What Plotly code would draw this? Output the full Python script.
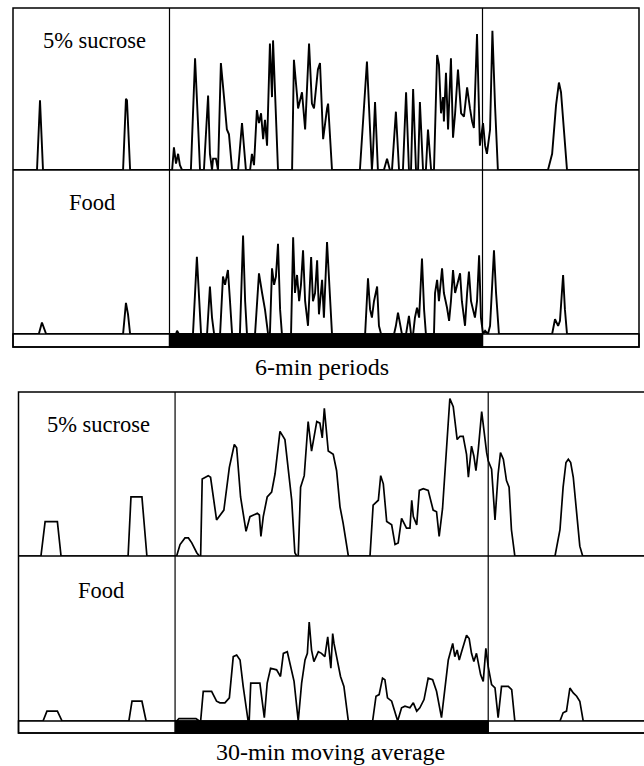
import plotly.graph_objects as go

W, H = 644, 766

# ---------------- data (time in hours of the 24-h record, value in % of row height) ----------------
DARK_START, DARK_END = 6, 18

# 6-min periods, 5% sucrose
suc6 = [(0, 0), (0.92, 0), (1.035, 43), (1.15, 0),
        (4.22, 0), (4.33, 44), (4.37, 43), (4.49, 0),
        (6.10, 0), (6.17, 14), (6.25, 4), (6.33, 10), (6.40, 3), (6.48, 0),
        (6.82, 0), (6.98, 69), (7.09, 30), (7.17, 0),
        (7.32, 0), (7.48, 46), (7.55, 10), (7.63, 0), (7.67, 7), (7.78, 7), (7.86, 0),
        (7.97, 66), (8.09, 45), (8.20, 25), (8.28, 22), (8.40, 0),
        (8.63, 0), (8.78, 29), (8.93, 0),
        (9.09, 0), (9.16, 10), (9.24, 3), (9.35, 37), (9.43, 29), (9.51, 35), (9.59, 19), (9.66, 31),
        (9.74, 15), (9.85, 78), (9.93, 45), (9.97, 80), (10.05, 42), (10.16, 0),
        (10.70, 0), (10.77, 68), (10.89, 46), (10.93, 38), (11.08, 48), (11.20, 25), (11.35, 78),
        (11.46, 41), (11.54, 38), (11.69, 62), (11.77, 66), (11.89, 19), (12.04, 38), (12.08, 41), (12.23, 0),
        (13.30, 0), (13.57, 67), (13.69, 20), (13.76, 0), (13.80, 10), (13.88, 42), (13.99, 0),
        (14.22, 0), (14.34, 7), (14.45, 0),
        (14.53, 0), (14.68, 36), (14.80, 0),
        (14.95, 0), (15.07, 48), (15.18, 0), (15.26, 0), (15.34, 50), (15.45, 0),
        (15.53, 0), (15.60, 42), (15.72, 0),
        (15.83, 0), (15.91, 25), (16.03, 0),
        (16.14, 0), (16.26, 71), (16.33, 65), (16.41, 35), (16.49, 45), (16.52, 30), (16.60, 60),
        (16.68, 25), (16.79, 69), (16.87, 20), (16.95, 35), (17.06, 62), (17.18, 35), (17.29, 33),
        (17.41, 51), (17.52, 38), (17.60, 30), (17.67, 26), (17.79, 84), (17.90, 15), (18.02, 29),
        (18.10, 15), (18.17, 10), (18.29, 25), (18.38, 86), (18.48, 40), (18.59, 0),
        (20.51, 0), (20.67, 10), (20.82, 40), (20.93, 54), (21.01, 48), (21.13, 20), (21.24, 0), (24, 0)]

# 6-min periods, food
food6 = [(0, 0), (0.99, 0), (1.11, 7), (1.19, 3), (1.27, 0),
         (4.22, 0), (4.33, 19), (4.41, 12), (4.49, 0),
         (6.25, 0), (6.29, 2), (6.36, 0),
         (6.90, 0), (7.05, 47), (7.13, 25), (7.21, 0),
         (7.44, 0), (7.55, 29), (7.63, 10), (7.71, 0),
         (7.94, 0), (8.05, 35), (8.13, 30), (8.20, 35), (8.24, 39), (8.32, 20), (8.40, 0),
         (8.70, 0), (8.82, 60), (8.90, 20), (8.97, 0),
         (9.28, 0), (9.43, 37), (9.55, 25), (9.66, 15), (9.78, 0),
         (9.85, 0), (9.93, 40), (10.01, 30), (10.08, 35), (10.16, 55), (10.24, 15), (10.31, 0),
         (10.66, 0), (10.74, 59), (10.81, 25), (10.89, 36), (10.97, 20), (11.04, 30), (11.12, 51),
         (11.20, 20), (11.31, 5), (11.43, 47), (11.50, 20), (11.58, 25), (11.66, 45), (11.73, 12),
         (11.85, 33), (11.92, 10), (12.04, 56), (12.12, 30), (12.23, 0),
         (13.50, 0), (13.61, 34), (13.69, 15), (13.76, 10), (13.84, 20), (13.96, 29), (14.03, 5), (14.11, 0),
         (14.61, 0), (14.68, 5), (14.76, 13), (14.84, 5), (14.91, 0),
         (15.07, 0), (15.18, 11), (15.26, 0),
         (15.34, 0), (15.41, 10), (15.49, 16), (15.57, 10), (15.68, 46), (15.76, 15), (15.83, 0),
         (16.14, 0), (16.18, 25), (16.26, 33), (16.33, 20), (16.45, 40), (16.52, 25), (16.64, 16),
         (16.72, 8), (16.79, 20), (16.87, 39), (16.95, 25), (17.02, 30), (17.14, 37), (17.21, 20),
         (17.33, 5), (17.41, 25), (17.48, 38), (17.56, 20), (17.64, 15), (17.71, 10), (17.79, 20),
         (17.87, 48), (17.94, 10), (18.02, 0),
         (18.10, 2), (18.21, 0), (18.29, 5), (18.36, 30), (18.44, 51), (18.52, 25), (18.63, 0),
         (20.67, 0), (20.78, 9), (20.90, 5), (20.97, 8), (21.09, 36), (21.16, 15), (21.24, 0), (24, 0)]

# 30-min moving average, 5% sucrose
suc30 = [(0, 0), (0.86, 0), (1.02, 21), (1.49, 21), (1.63, 0),
         (4.20, 0), (4.31, 36), (4.73, 36), (4.92, 0),
         (6.06, 0), (6.19, 7), (6.38, 11), (6.51, 11), (6.64, 8), (6.83, 2), (6.93, 0), (6.98, 0),
         (7.04, 47), (7.27, 49), (7.36, 48), (7.59, 22), (7.72, 25), (7.87, 28), (8.08, 54), (8.27, 68),
         (8.36, 66), (8.51, 36), (8.72, 15), (8.87, 24), (9.15, 26), (9.23, 25), (9.29, 12), (9.38, 24),
         (9.53, 36), (9.70, 39), (9.83, 50), (10.02, 76), (10.21, 71), (10.34, 53), (10.47, 34),
         (10.59, 2), (10.66, 0), (10.72, 0), (10.81, 42), (10.95, 49), (11.10, 82), (11.23, 64),
         (11.43, 82), (11.55, 81), (11.64, 72), (11.72, 90), (11.81, 73), (11.87, 64), (12.06, 62),
         (12.19, 52), (12.32, 30), (12.44, 20), (12.64, 0), (13.47, 0), (13.59, 31), (13.79, 34),
         (13.88, 49), (13.98, 44), (14.11, 21), (14.23, 20), (14.30, 19), (14.43, 7), (14.55, 8),
         (14.68, 23), (14.87, 17), (15.00, 17), (15.07, 34), (15.13, 24), (15.26, 19), (15.36, 40),
         (15.51, 41), (15.70, 40), (15.89, 28), (16.02, 27), (16.12, 12), (16.25, 29), (16.41, 71),
         (16.53, 96), (16.66, 91), (16.81, 71), (16.92, 73), (17.04, 73), (17.17, 62), (17.24, 48),
         (17.36, 67), (17.45, 61), (17.53, 52), (17.62, 65), (17.75, 88), (17.84, 75), (17.94, 63),
         (18.00, 58), (18.13, 53), (18.26, 22), (18.38, 50), (18.47, 63), (18.58, 59), (18.70, 46),
         (18.80, 42), (18.89, 16), (19.02, 0),
         (20.56, 0), (20.75, 16), (20.87, 42), (20.98, 57), (21.07, 59), (21.16, 57), (21.26, 48),
         (21.39, 24), (21.51, 6), (21.62, 0), (24, 0)]

# 30-min moving average, food
food30 = [(0, 0), (0.94, 0), (1.09, 6), (1.49, 6), (1.67, 0),
          (4.23, 0), (4.35, 12), (4.73, 12), (4.89, 0),
          (6.06, 0), (6.15, 1.5), (6.80, 1.5), (6.93, 0),
          (6.98, 0), (7.08, 18), (7.40, 18), (7.59, 12), (7.72, 11), (7.91, 11), (8.08, 14), (8.23, 39),
          (8.36, 40), (8.49, 37), (8.61, 21), (8.80, 0), (8.84, 0), (8.90, 23), (9.25, 23), (9.42, 2),
          (9.53, 23), (9.66, 32), (9.89, 31), (10.04, 27), (10.15, 41), (10.30, 42), (10.40, 35),
          (10.56, 24), (10.72, 0), (10.85, 23), (10.98, 37), (11.07, 41), (11.14, 60), (11.23, 43),
          (11.32, 36), (11.49, 42), (11.61, 41), (11.74, 39), (11.85, 51), (11.93, 37), (11.97, 32),
          (12.04, 53), (12.09, 47), (12.19, 39), (12.34, 27), (12.47, 21), (12.64, 0), (13.57, 0),
          (13.70, 15), (13.82, 16), (13.95, 26), (14.04, 25), (14.14, 14), (14.30, 12), (14.40, 7),
          (14.53, 0), (14.68, 8), (14.81, 9), (15.00, 8), (15.13, 11), (15.26, 6), (15.38, 8),
          (15.54, 13), (15.70, 26), (15.87, 25), (16.02, 18), (16.21, 2), (16.47, 37), (16.64, 47),
          (16.72, 39), (16.81, 43), (16.89, 37), (16.98, 42), (17.17, 52), (17.27, 50), (17.36, 41),
          (17.45, 36), (17.55, 41), (17.71, 28), (17.81, 24), (17.91, 44), (18.00, 33), (18.13, 22),
          (18.26, 20), (18.38, 2), (18.51, 21), (18.77, 21), (18.90, 19), (19.02, 0),
          (20.75, 0), (20.87, 5), (21.00, 6), (21.13, 20), (21.26, 17), (21.39, 15), (21.51, 12),
          (21.64, 0), (24, 0)]

row_labels = ["5% sucrose", "Food"]
panel_titles = ["6-min periods", "30-min moving average"]

# ---------------- layout geometry (pixels) ----------------
FONT = "Liberation Serif, Times New Roman, serif"
panels = [
    dict(left=13, right=639, xmax=24, top=8, mid=170, base=334, barb=347,
         series=[suc6, food6], xa="x", ya=["y", "y2"], lw=1.9,
         lab=[(94, 41), (92, 203)], title=(322, 367)),
    dict(left=18.5, right=644, xmax=23.97, top=392, mid=556, base=721, barb=733,
         series=[suc30, food30], xa="x2", ya=["y3", "y4"], lw=1.7,
         lab=[(98, 424), (101, 590)], title=(330, 752)),
]


def px(x):
    return x / W


def py(y):
    return 1 - y / H


fig = go.Figure()
shapes, annotations = [], []
LW = 1.5

for i, p in enumerate(panels):
    rows = [(p["top"], p["mid"]), (p["mid"], p["base"])]
    xname = "xaxis" if i == 0 else "xaxis2"
    fig.layout[xname] = dict(domain=[px(p["left"]), min(1.0, px(p["right"]))],
                             range=[0, p["xmax"]], visible=False, fixedrange=True)
    for r, (ser, yid) in enumerate(zip(p["series"], p["ya"])):
        t = [a for a, b in ser]
        v = [b for a, b in ser]
        fig.add_trace(go.Scatter(x=t, y=v, mode="lines", xaxis=p["xa"], yaxis=yid,
                                 line=dict(color="black", width=p["lw"]), showlegend=False,
                                 hoverinfo="skip"))
        ytop, ybase = rows[r]
        yname = "yaxis" + ("" if yid == "y" else yid[1:])
        fig.layout[yname] = dict(domain=[py(ybase), py(ytop)], range=[0, 100],
                                 visible=False, anchor=p["xa"], fixedrange=True)
        lx, ly = p["lab"][r]
        annotations.append(dict(x=px(lx), y=py(ly), xref="paper", yref="paper",
                                text=row_labels[r], showarrow=False,
                                font=dict(family=FONT, size=22.5, color="black"),
                                xanchor="center", yanchor="middle"))

    xr = p["xa"]
    L, R = px(p["left"]), px(p["right"]) if p["right"] < W else 1.02
    # light/dark bar (white with outline, black during dark phase)
    shapes.append(dict(type="rect", xref="paper", yref="paper", x0=L, x1=R,
                       y0=py(p["barb"]), y1=py(p["base"]),
                       fillcolor="white", line=dict(color="black", width=LW)))
    shapes.append(dict(type="rect", xref=xr, yref="paper", x0=DARK_START, x1=DARK_END,
                       y0=py(p["barb"]), y1=py(p["base"]),
                       fillcolor="black", line=dict(color="black", width=LW)))
    # outer frame
    shapes.append(dict(type="rect", xref="paper", yref="paper", x0=L, x1=R,
                       y0=py(p["barb"]), y1=py(p["top"]),
                       line=dict(color="black", width=LW)))
    # row separator
    shapes.append(dict(type="line", xref="paper", yref="paper", x0=L, x1=R,
                       y0=py(p["mid"]), y1=py(p["mid"]),
                       line=dict(color="black", width=LW)))
    # light/dark dividers
    for tt in (DARK_START, DARK_END):
        shapes.append(dict(type="line", xref=xr, yref="paper", x0=tt, x1=tt,
                           y0=py(p["base"]), y1=py(p["top"]),
                           line=dict(color="black", width=1.2)))
    tx, ty = p["title"]
    annotations.append(dict(x=px(tx), y=py(ty), xref="paper", yref="paper",
                            text=panel_titles[i], showarrow=False,
                            font=dict(family=FONT, size=24, color="black"),
                            xanchor="center", yanchor="middle"))

fig.update_layout(width=W, height=H, margin=dict(l=0, r=0, t=0, b=0),
                  paper_bgcolor="white", plot_bgcolor="rgba(0,0,0,0)",
                  shapes=shapes, annotations=annotations, showlegend=False)

fig.write_html("out.html", config={"displayModeBar": False},
               post_script="document.body.style.margin='0';document.body.style.overflow='hidden';")
